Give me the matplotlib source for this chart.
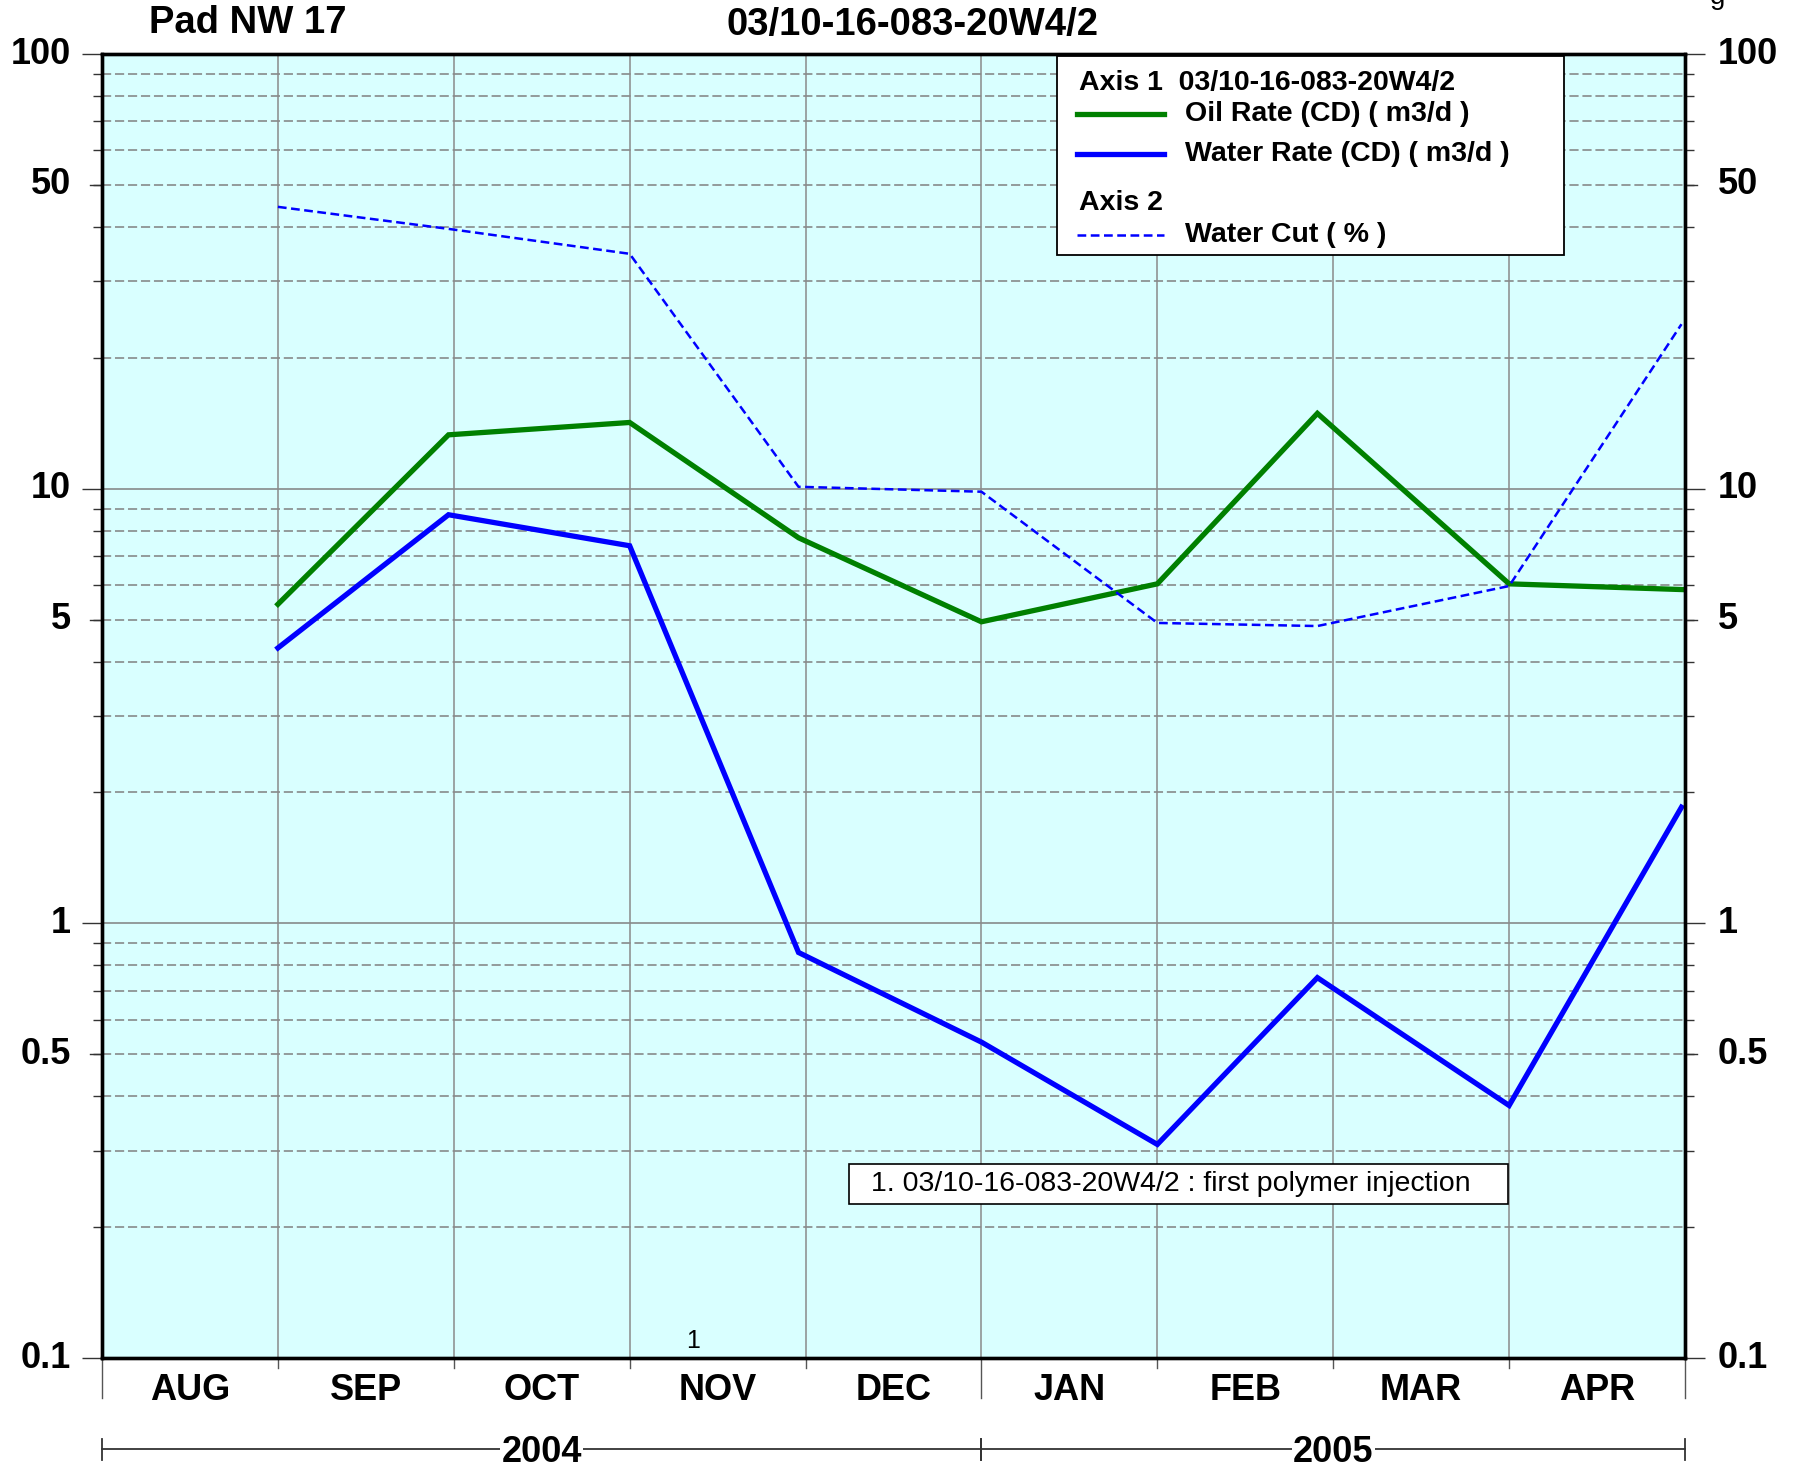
import matplotlib
matplotlib.use("Agg")
import matplotlib.pyplot as plt
import matplotlib.transforms as mtransforms
from matplotlib.patches import Rectangle
from matplotlib.lines import Line2D
from matplotlib.ticker import FixedLocator, NullFormatter

# ---------------- data ----------------
months = ["AUG", "SEP", "OCT", "NOV", "DEC", "JAN", "FEB", "MAR", "APR"]
years = ["2004", "2005"]
year_spans = [(0, 5), (5, 9)]          # month-index spans of each year
# sample positions in months since 1 Aug 2004
x_pts = [1.0, 1.97, 3.0, 3.96, 5.0, 6.0, 6.91, 8.0, 8.98]
oil_rate = [5.42, 13.3, 14.2, 7.71, 4.94, 6.04, 14.9, 6.04, 5.86]
water_rate = [4.30, 8.71, 7.39, 0.857, 0.533, 0.310, 0.75, 0.381, 1.85]
water_cut = [44.5, 39.6, 34.7, 10.1, 9.84, 4.91, 4.83, 5.97, 23.9]
event_x = 3.36
event_label = "1"
event_text = "1. 03/10-16-083-20W4/2 : first polymer injection"
well = "03/10-16-083-20W4/2"
pad_title = "Pad NW 17"
ytick_vals = [0.1, 0.5, 1, 5, 10, 50, 100]
ytick_labels = ["0.1", "0.5", "1", "5", "10", "50", "100"]

plt.rcParams['font.family'] = ['Liberation Sans', 'DejaVu Sans']

W, H = 1802, 1470
fig = plt.figure(figsize=(W / 100, H / 100), dpi=100)
L, R, B, T = 102, 1685, 1358, 54
ax = fig.add_axes([L / W, 1 - B / H, (R - L) / W, (B - T) / H])
ax.set_facecolor("#D9FFFF")
ax.set_yscale("log")
ax.set_ylim(0.1, 100)
ax.set_xlim(0, 9)

major = [0.1, 1, 10, 100]
minor = [m * d for d in [0.1, 1, 10] for m in range(2, 10)]

# gridlines
for v in minor:
    ax.axhline(v, color="#808080", lw=1.1, ls=(0, (6, 2.5)), zorder=1)
for v in major[1:-1]:
    ax.axhline(v, color="#808080", lw=1.1, zorder=1)
for i in range(1, 9):
    ax.axvline(i, color="#8a8a8a", lw=1.1, zorder=1)

# data lines
ax.plot(x_pts, oil_rate, color="#008000", lw=3.8, zorder=4, solid_joinstyle="miter")
ax.plot(x_pts, water_rate, color="#0000FF", lw=3.8, zorder=4, solid_joinstyle="miter")

ax2 = ax.twinx()
ax2.set_yscale("log")
ax2.set_ylim(0.1, 100)
ax2.set_xlim(0, 9)
ax2.plot(x_pts, water_cut, color="#0000FF", lw=1.8, ls=(0, (3.5, 1.8)), zorder=4)

# ticks
lab_font = dict(fontsize=26, fontweight="bold")
ax.yaxis.set_major_locator(FixedLocator(major))
ax.yaxis.set_minor_locator(FixedLocator(minor))
ax.yaxis.set_major_formatter(NullFormatter())
ax.yaxis.set_minor_formatter(NullFormatter())
ax.tick_params(axis="y", which="major", length=14.5, width=1, color="#333333", left=True, right=False)
ax.tick_params(axis="y", which="minor", length=6.5, width=1, color="#333333", left=True, right=False)
ax2.yaxis.set_major_locator(FixedLocator(major))
ax2.yaxis.set_minor_locator(FixedLocator(minor))
ax2.yaxis.set_major_formatter(NullFormatter())
ax2.yaxis.set_minor_formatter(NullFormatter())
ax2.tick_params(axis="y", which="major", length=14.5, width=1, color="#333333", right=True, left=False)
ax2.tick_params(axis="y", which="minor", length=6.5, width=1, color="#333333", right=True, left=False)

ytr_l = mtransforms.blended_transform_factory(fig.transFigure, ax.transData)
for v, s in zip(ytick_vals, ytick_labels):
    fig.text(71 / W, v, s, transform=ytr_l, ha="right", va="center", **lab_font)
    fig.text(1718 / W, v, s, transform=ytr_l, ha="left", va="center", **lab_font)
# slightly longer ticks for 0.5, 5, 50
for v in [0.5, 5, 50]:
    ax.add_line(Line2D([-12 / (R - L) * 9, 0], [v, v], color="#333333", lw=1, clip_on=False, zorder=5))
    ax.add_line(Line2D([9, 9 + 12 / (R - L) * 9], [v, v], color="#333333", lw=1, clip_on=False, zorder=5))

# x axis
ax.set_xticks([])
ax2.set_xticks([])
xtr = ax.get_xaxis_transform()
for i in range(10):
    yb = -0.0307 if i in (0, 5, 9) else -0.0077
    ax.add_line(Line2D([i, i], [0, yb], transform=xtr, color="#555555", lw=1, clip_on=False))
for i, m in enumerate(months):
    ax.text(i + 0.5, -0.0248, m, transform=xtr, ha="center", va="center", **lab_font)

# year bar
yl = -0.0700
ax.add_line(Line2D([0, 9], [yl, yl], transform=xtr, color="#333333", lw=1.3, clip_on=False))
for (a0, a1), yr in zip(year_spans, years):
    for e in (a0, a1):
        ax.add_line(Line2D([e, e], [yl + 0.008, yl - 0.008], transform=xtr, color="#333333", lw=1.3, clip_on=False))
    ax.text((a0 + a1) / 2, -0.0728, yr, transform=xtr, ha="center", va="center",
            bbox=dict(facecolor="white", edgecolor="none", pad=1), **lab_font)

# spines
for a in (ax, ax2):
    for s in a.spines.values():
        s.set_linewidth(2.4)
        s.set_color("black")
        s.set_zorder(6)

# titles
fig.text(149 / W, 1 - 23 / H, pad_title, ha="left", va="center", fontsize=27.5, fontweight="bold")
fig.text(913 / W, 1 - 25 / H, well, ha="center", va="center", fontsize=27.5, fontweight="bold")
fig.text(1718 / W, 1 - 4 / H, "g", ha="center", va="baseline", fontsize=20)

# legend box
lx0, lx1, ly0, ly1 = 0.603, 0.9236, 0.846, 0.9985
ax2.add_patch(Rectangle((lx0, ly0), lx1 - lx0, ly1 - ly0, transform=ax2.transAxes,
                        facecolor="white", edgecolor="black", lw=1.3, zorder=10))
leg_font = dict(fontsize=20.5, fontweight="bold", zorder=11, transform=ax2.transAxes, va="center")
dy = -0.0024
ax2.text(0.6172, 0.9801 + dy, "Axis 1  " + well, ha="left", **leg_font)
ax2.add_line(Line2D([0.6159, 0.6709], [0.9563 + dy, 0.9563 + dy], transform=ax2.transAxes,
                    color="#008000", lw=3.8, zorder=11))
ax2.text(0.6841, 0.9563 + dy, "Oil Rate (CD) ( m3/d )", ha="left", **leg_font)
ax2.add_line(Line2D([0.6159, 0.6709], [0.9256 + dy, 0.9256 + dy], transform=ax2.transAxes,
                    color="#0000FF", lw=3.8, zorder=11))
ax2.text(0.6841, 0.9256 + dy, "Water Rate (CD) ( m3/d )", ha="left", **leg_font)
ax2.text(0.6172, 0.888 + dy, "Axis 2", ha="left", **leg_font)
ax2.add_line(Line2D([0.6159, 0.6709], [0.8635 + dy, 0.8635 + dy], transform=ax2.transAxes,
                    color="#0000FF", lw=1.8, ls=(0, (3.5, 1.8)), zorder=11))
ax2.text(0.6841, 0.8635 + dy, "Water Cut ( % )", ha="left", **leg_font)

# event annotation
ax2.add_patch(Rectangle((0.4719, 0.118), 0.8882 - 0.4719, 0.1488 - 0.118, transform=ax2.transAxes,
                        facecolor="white", edgecolor="black", lw=1.2, zorder=10))
ax2.text(0.4857, 0.1334, event_text, transform=ax2.transAxes, ha="left", va="center",
         fontsize=20.5, zorder=11)
ax2.text(event_x, 0.004, event_label, transform=ax2.get_xaxis_transform(), ha="center", va="bottom",
         fontsize=18, zorder=11)

fig.savefig("out.png", dpi=100, facecolor="white")
